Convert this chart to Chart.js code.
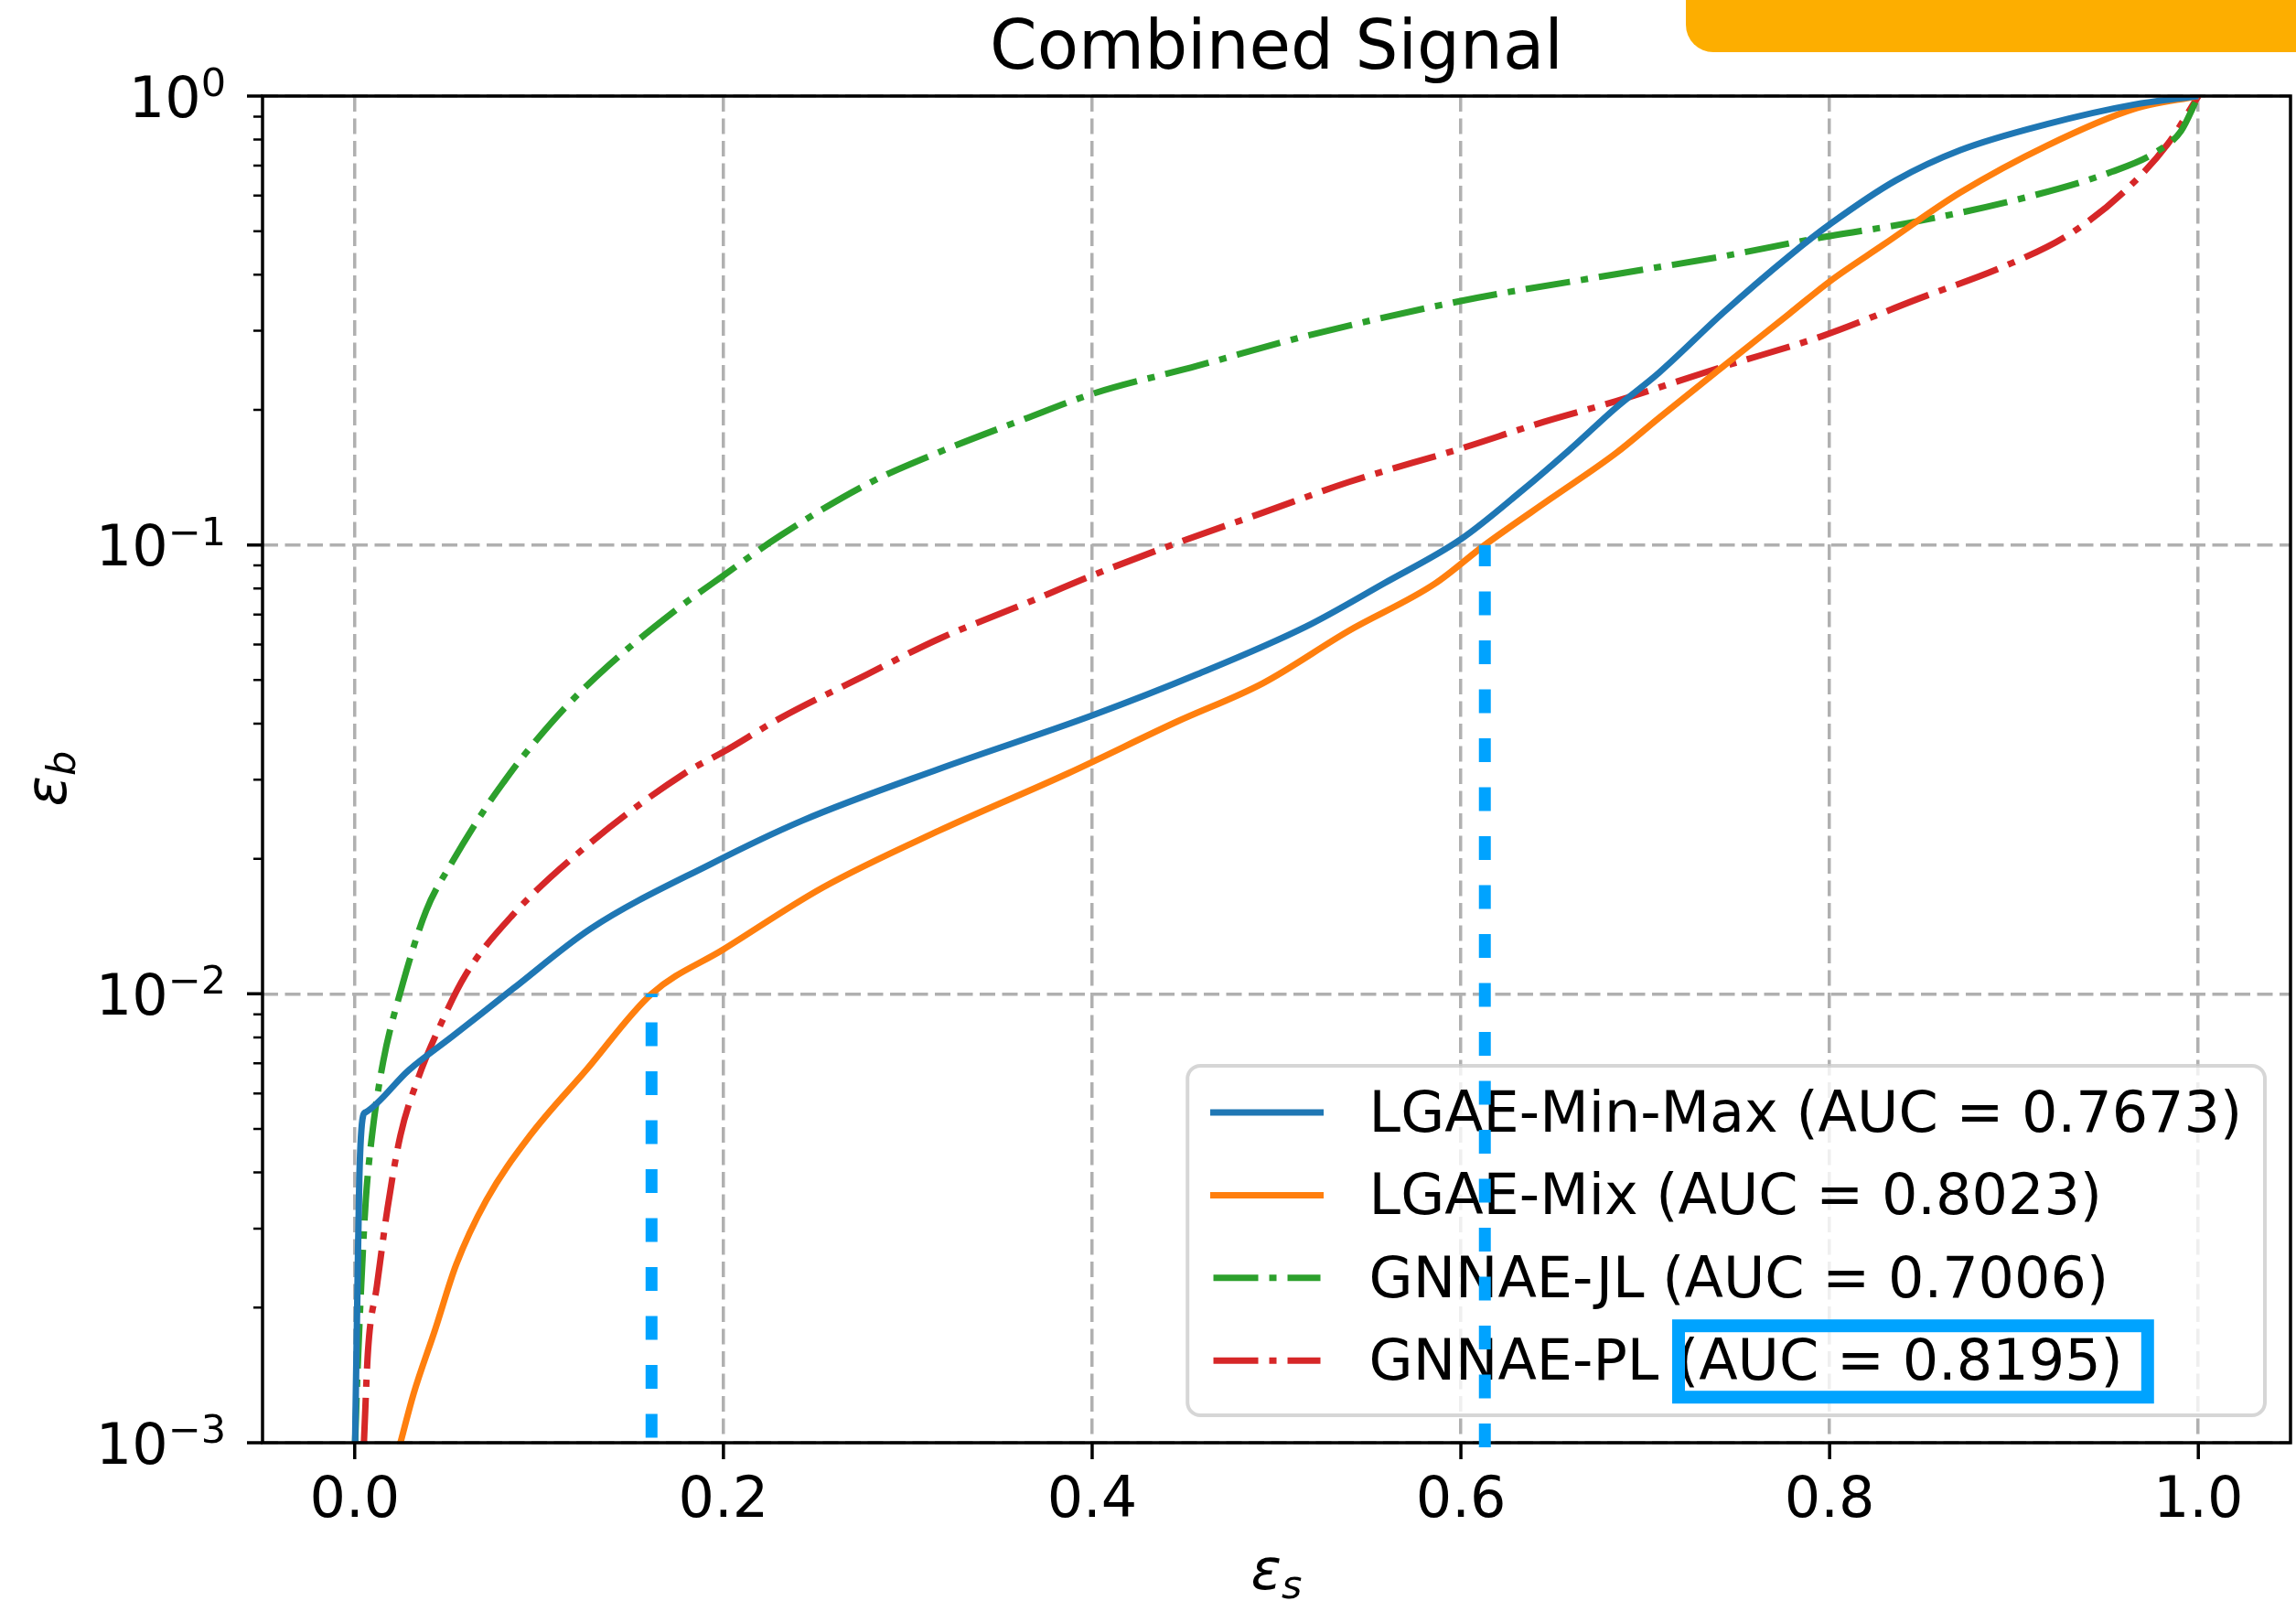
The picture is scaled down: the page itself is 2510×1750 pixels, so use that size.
<!DOCTYPE html>
<html>
<head>
<meta charset="utf-8">
<title>Combined Signal</title>
<script src="https://cdn.jsdelivr.net/npm/chart.js@4.4.1/dist/chart.umd.min.js"></script>
<style>
  html, body { margin: 0; padding: 0; background: #fff; }
  #wrap { width: 2510px; height: 1750px; }
</style>
</head>
<body>
<div id="wrap"><canvas id="rocChart" width="2510" height="1750"></canvas></div>
<script>
const FONT = 'DejaVu Sans';

// axes
const xTicks = [0.0, 0.2, 0.4, 0.6, 0.8, 1.0];
const yDecades = [0.001, 0.01, 0.1, 1];

// ROC curves: signal efficiency (eps_s) vs background efficiency (eps_b)
const minMaxEffS = [0.0002, 0.0015, 0.0025, 0.0045, 0.006, 0.0293, 0.053, 0.0858, 0.128, 0.1935, 0.2426, 0.317, 0.400, 0.457, 0.516, 0.558, 0.600, 0.633, 0.659, 0.684, 0.7075, 0.7426, 0.778, 0.801, 0.836, 0.871, 0.918, 0.965, 1.0];
const minMaxEffB = [0.001, 0.00223, 0.00388, 0.00534, 0.00545, 0.00676, 0.00804, 0.01026, 0.01397, 0.0195, 0.0243, 0.0317, 0.0417, 0.0515, 0.0658, 0.082, 0.103, 0.132, 0.163, 0.202, 0.242, 0.330, 0.440, 0.521, 0.649, 0.758, 0.866, 0.957, 1.0];

const mixEffS = [0.0248, 0.0318, 0.0437, 0.055, 0.0714, 0.0952, 0.1255, 0.161, 0.200, 0.254, 0.317, 0.387, 0.446, 0.4926, 0.539, 0.586, 0.613, 0.649, 0.684, 0.7075, 0.7426, 0.778, 0.801, 0.829, 0.871, 0.918, 0.965, 1.0];
const mixEffB = [0.001, 0.00128, 0.00179, 0.00249, 0.00347, 0.00484, 0.00676, 0.01, 0.01256, 0.01726, 0.0231, 0.031, 0.0404, 0.0492, 0.0643, 0.082, 0.1, 0.127, 0.160, 0.192, 0.2506, 0.327, 0.389, 0.466, 0.61, 0.776, 0.936, 1.0];

const jlEffS = [0.0002, 0.0015, 0.0035, 0.006, 0.0094, 0.0154, 0.0248, 0.0387, 0.053, 0.0714, 0.081, 0.0903, 0.1136, 0.137, 0.172, 0.200, 0.231, 0.280, 0.317, 0.3636, 0.400, 0.457, 0.516, 0.600, 0.684, 0.7426, 0.7917, 0.8477, 0.906, 0.953, 0.977, 0.9906, 1.0];
const jlEffB = [0.001, 0.00143, 0.00223, 0.00347, 0.00484, 0.00705, 0.0101, 0.0153, 0.0197, 0.0261, 0.0297, 0.0334, 0.0432, 0.0536, 0.0705, 0.0855, 0.105, 0.138, 0.161, 0.191, 0.217, 0.2506, 0.292, 0.3496, 0.401, 0.440, 0.481, 0.526, 0.594, 0.678, 0.75, 0.836, 1.0];

const plEffS = [0.005, 0.0072, 0.012, 0.0178, 0.0248, 0.0342, 0.0459, 0.060, 0.0858, 0.1255, 0.179, 0.200, 0.2307, 0.278, 0.317, 0.3636, 0.400, 0.446, 0.4926, 0.539, 0.600, 0.645, 0.684, 0.740, 0.796, 0.8477, 0.895, 0.930, 0.960, 0.9836, 1.0];
const plEffB = [0.001, 0.0016, 0.00223, 0.00333, 0.00484, 0.00645, 0.00842, 0.011, 0.0150, 0.0213, 0.031, 0.0346, 0.0411, 0.0515, 0.0618, 0.074, 0.0855, 0.101, 0.118, 0.138, 0.164, 0.188, 0.209, 0.248, 0.292, 0.353, 0.418, 0.492, 0.614, 0.784, 1.0];

const modelNames = ['LGAE-Min-Max', 'LGAE-Mix', 'GNNAE-JL', 'GNNAE-PL'];
const aucValues = ['0.7673', '0.8023', '0.7006', '0.8195'];

// working points on the LGAE-Mix curve
const markEffB = [0.01, 0.1];
const markEffS = [0.161, 0.613];

const toPoints = (xs, ys) => xs.map((x, i) => ({ x: x, y: ys[i] }));
const dashDot = [49, 12, 8, 12];

const curves = [
    { s: minMaxEffS, b: minMaxEffB, color: '#1f77b4', dash: [] },
    { s: mixEffS, b: mixEffB, color: '#ff7f0e', dash: [] },
    { s: jlEffS, b: jlEffB, color: '#2ca02c', dash: dashDot },
    { s: plEffS, b: plEffB, color: '#d62728', dash: dashDot }
];

const datasets = curves.map((c, i) => ({
    label: `${modelNames[i]} (AUC = ${aucValues[i]})`,
    data: toPoints(c.s, c.b),
    borderColor: c.color,
    borderWidth: 7,
    borderDash: c.dash,
    pointRadius: 0,
    fill: false,
    cubicInterpolationMode: 'monotone'
}));

function roundRect(ctx, x, y, w, h, r) {
    ctx.beginPath();
    ctx.moveTo(x + r, y);
    ctx.lineTo(x + w - r, y);
    ctx.arcTo(x + w, y, x + w, y + r, r);
    ctx.lineTo(x + w, y + h - r);
    ctx.arcTo(x + w, y + h, x + w - r, y + h, r);
    ctx.lineTo(x + r, y + h);
    ctx.arcTo(x, y + h, x, y + h - r, r);
    ctx.lineTo(x, y + r);
    ctx.arcTo(x, y, x + r, y, r);
    ctx.closePath();
}

// legend box in the lower right corner of the plot
function drawLegend(chart) {
    const { ctx, chartArea: a } = chart;
    const em = 62;
    ctx.save();
    ctx.font = `${em}px ${FONT}`;
    const labels = chart.data.datasets.map(d => d.label);
    const maxW = Math.max(...labels.map(t => ctx.measureText(t).width));
    const pad = 0.4 * em, handleLen = 2 * em, gap = 0.8 * em;
    const right = a.right - 28, bottom = a.bottom - 30;
    const width = pad + handleLen + gap + maxW + pad;
    const height = 382;
    const left = right - width, top = bottom - height;

    roundRect(ctx, left, top, width, height, 14);
    ctx.fillStyle = 'rgba(255,255,255,0.8)';
    ctx.fill();
    ctx.lineWidth = 4;
    ctx.strokeStyle = 'rgba(204,204,204,0.8)';
    ctx.stroke();

    const rowH = 90.4;
    const textX = left + pad + handleLen + gap;
    chart.data.datasets.forEach((d, i) => {
        const base = top + 72 + i * rowH;
        const ly = base - 21;
        ctx.beginPath();
        ctx.setLineDash(d.borderDash);
        ctx.lineCap = d.borderDash.length ? 'butt' : 'square';
        ctx.strokeStyle = d.borderColor;
        ctx.lineWidth = d.borderWidth;
        ctx.moveTo(left + pad + 3.5, ly);
        ctx.lineTo(left + pad + handleLen - 3.5, ly);
        ctx.stroke();
        ctx.setLineDash([]);
        ctx.fillStyle = '#000';
        ctx.textAlign = 'left';
        ctx.textBaseline = 'alphabetic';
        ctx.fillText(d.label, textX, base);
    });

    // highlight around the best AUC
    const last = chart.data.datasets.length - 1;
    const base = top + 72 + last * rowH;
    const pre = ctx.measureText(modelNames[last] + ' ').width;
    const aucW = ctx.measureText(`(AUC = ${aucValues[last]})`).width;
    const bx0 = textX + pre - 5, bx1 = textX + pre + aucW + 34;
    const by0 = base - 66, by1 = base + 26;
    ctx.lineWidth = 14;
    ctx.strokeStyle = '#00a3ff';
    ctx.strokeRect(bx0 + 7, by0 + 7, bx1 - bx0 - 14, by1 - by0 - 14);
    ctx.restore();
}

const decor = {
    id: 'decor',
    afterDatasetsDraw(chart) {
        drawLegend(chart);
    },
    afterDraw(chart) {
        const { ctx, chartArea: a, scales } = chart;
        const xs = scales.x, ys = scales.y;
        ctx.save();

        // frame
        ctx.strokeStyle = '#000';
        ctx.lineWidth = 3.5;
        ctx.strokeRect(a.left, a.top, a.right - a.left, a.bottom - a.top);

        // x tick marks
        ctx.lineWidth = 3.5;
        ctx.beginPath();
        xTicks.forEach(v => {
            const x = xs.getPixelForValue(v);
            ctx.moveTo(x, a.bottom);
            ctx.lineTo(x, a.bottom + 18);
        });
        ctx.stroke();

        // y tick marks, major and minor
        ctx.beginPath();
        yDecades.forEach(v => {
            const y = ys.getPixelForValue(v);
            ctx.moveTo(a.left - 17, y);
            ctx.lineTo(a.left, y);
        });
        ctx.stroke();
        ctx.lineWidth = 2.5;
        ctx.beginPath();
        yDecades.slice(0, -1).forEach(d => {
            for (let m = 2; m <= 9; m++) {
                const y = ys.getPixelForValue(m * d);
                ctx.moveTo(a.left - 10, y);
                ctx.lineTo(a.left, y);
            }
        });
        ctx.stroke();

        // y tick labels as powers of ten
        ctx.fillStyle = '#000';
        ctx.textAlign = 'left';
        ctx.textBaseline = 'alphabetic';
        yDecades.forEach(v => {
            const y = ys.getPixelForValue(v);
            const exp = Math.round(Math.log10(v));
            const sup = exp === 0 ? '0' : '\u2212' + Math.abs(exp);
            ctx.font = `43px ${FONT}`;
            const supW = ctx.measureText(sup).width;
            ctx.font = `62px ${FONT}`;
            const baseW = ctx.measureText('10').width;
            const right = a.left - 40;
            ctx.fillText('10', right - supW - baseW, y + 22.5);
            ctx.font = `43px ${FONT}`;
            ctx.fillText(sup, right - supW, y);
        });

        // title
        ctx.font = `74px ${FONT}`;
        ctx.textAlign = 'center';
        ctx.fillText('Combined Signal', (a.left + a.right) / 2, 75);

        // x axis label
        ctx.textAlign = 'left';
        ctx.font = `italic 62px ${FONT}`;
        const epsW = ctx.measureText('\u03b5').width;
        ctx.font = `italic 43px ${FONT}`;
        const subW = ctx.measureText('s').width;
        const lx = (a.left + a.right) / 2 - (epsW + subW) / 2;
        ctx.font = `italic 62px ${FONT}`;
        ctx.fillText('\u03b5', lx, 1737);
        ctx.font = `italic 43px ${FONT}`;
        ctx.fillText('s', lx + epsW, 1747);

        // y axis label
        ctx.save();
        ctx.translate(72, (a.top + a.bottom) / 2 + 10);
        ctx.rotate(-Math.PI / 2);
        ctx.font = `italic 43px ${FONT}`;
        const subBW = ctx.measureText('b').width;
        const off = -(epsW + subBW) / 2;
        ctx.font = `italic 62px ${FONT}`;
        ctx.fillText('\u03b5', off, 0);
        ctx.font = `italic 43px ${FONT}`;
        ctx.fillText('b', off + epsW, 10);
        ctx.restore();

        // dashed markers at the LGAE-Mix working points
        const offsets = [43, 0];
        ctx.strokeStyle = '#00a3ff';
        ctx.lineWidth = 13;
        ctx.lineCap = 'butt';
        markEffS.forEach((s, i) => {
            const x = xs.getPixelForValue(s);
            ctx.setLineDash([26, 27.5]);
            ctx.lineDashOffset = offsets[i];
            ctx.beginPath();
            ctx.moveTo(x, ys.getPixelForValue(yDecades[0]) + 5);
            ctx.lineTo(x, ys.getPixelForValue(markEffB[i]));
            ctx.stroke();
        });
        ctx.setLineDash([]);

        // tab in the top right corner
        const tx = 1843, th = 57, r = 30;
        ctx.fillStyle = '#fdae00';
        ctx.beginPath();
        ctx.moveTo(tx, 0);
        ctx.lineTo(chart.width, 0);
        ctx.lineTo(chart.width, th);
        ctx.lineTo(tx + r, th);
        ctx.arcTo(tx, th, tx, th - r, r);
        ctx.closePath();
        ctx.fill();

        ctx.restore();
    }
};

const gridStyle = { color: '#b0b0b0', lineWidth: 3.5, drawTicks: false };
const gridBorder = { display: false, dash: [17, 7.5] };

new Chart(document.getElementById('rocChart').getContext('2d'), {
    type: 'line',
    data: { datasets: datasets },
    options: {
        responsive: false,
        animation: false,
        devicePixelRatio: 1,
        layout: { padding: { left: 0, right: 6, top: 105, bottom: 0 } },
        plugins: {
            legend: { display: false },
            tooltip: { enabled: false }
        },
        scales: {
            x: {
                type: 'linear',
                min: -0.05,
                max: 1.05,
                afterBuildTicks: s => { s.ticks = xTicks.map(v => ({ value: v })); },
                afterFit: s => { s.height = 173; },
                grid: gridStyle,
                border: gridBorder,
                ticks: {
                    font: { size: 62, family: FONT },
                    color: '#000',
                    padding: 28,
                    maxRotation: 0,
                    autoSkip: false,
                    callback: v => Number(v).toFixed(1)
                }
            },
            y: {
                type: 'logarithmic',
                min: 0.001,
                max: 1,
                afterBuildTicks: s => { s.ticks = yDecades.map(v => ({ value: v, major: true })); },
                afterFit: s => { s.width = 287; },
                grid: gridStyle,
                border: gridBorder,
                ticks: { display: false }
            }
        }
    },
    plugins: [decor]
});
</script>
</body>
</html>
